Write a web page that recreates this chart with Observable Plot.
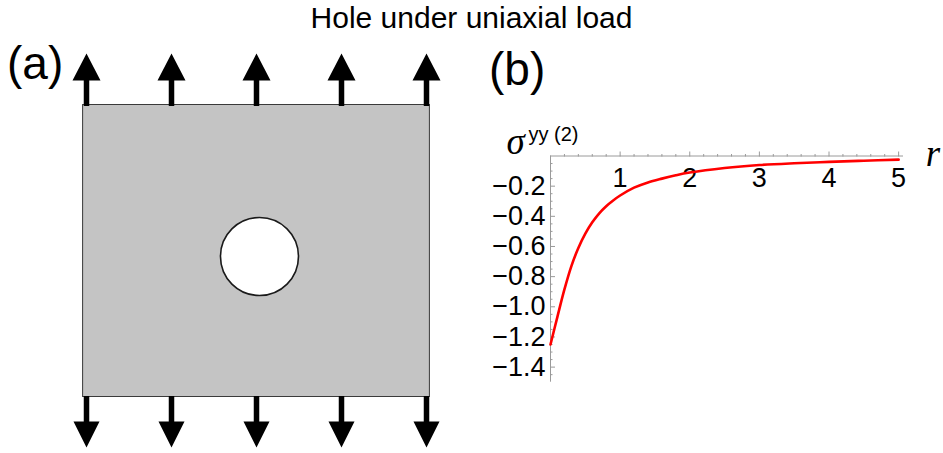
<!DOCTYPE html>
<html><head><meta charset="utf-8">
<script src="https://cdn.jsdelivr.net/npm/d3@7"></script>
<script src="https://cdn.jsdelivr.net/npm/@observablehq/plot@0.6"></script>
<style>
html,body{margin:0;padding:0;background:#fff;}
#wrap{position:relative;width:943px;height:453px;overflow:hidden;font-family:"Liberation Sans",Arial,Helvetica,sans-serif;}
.abs{position:absolute;line-height:1;white-space:nowrap;color:#000;}
#title{left:0;width:943px;text-align:center;top:3px;font-size:30px;}
#la{left:7px;top:40px;font-size:46px;}
#lb{left:489px;top:46px;font-size:46px;}
#pa{position:absolute;left:0;top:0;}
#pb{position:absolute;left:480px;top:120px;}
</style></head><body>
<div id="wrap">
  <div id="pa"></div>
  <div id="pb"></div>
  <div id="title" class="abs"></div>
  <div id="la" class="abs"></div>
  <div id="lb" class="abs"></div>
</div>
<script>
// ---- text ----
const title = "Hole under uniaxial load";
const panelLabels = ["(a)", "(b)"];

// ---- panel (a): plate with a hole, pulled by arrows (plate units) ----
const arrowX = [0, 1, 2, 3, 4];
const plateX = [-0.04, 4.04];
const plateY = [0, 3.435];
const holeCenter = [2.035, 1.653];

// ---- panel (b): sigma^yy(2) vs r ----
const rValues = [0, 0.1, 0.2, 0.3, 0.4, 0.5, 0.6, 0.7, 0.8, 0.9, 1.0, 1.2, 1.4, 1.6, 1.8, 2.0, 2.5, 3.0, 3.5, 4.0, 4.5, 5.0];
const sigmaValues = [-1.25, -1.065, -0.885, -0.73, -0.61, -0.515, -0.44, -0.38, -0.333, -0.295, -0.262, -0.21, -0.175, -0.15, -0.128, -0.11, -0.08, -0.06, -0.048, -0.039, -0.031, -0.024];
const xTicks = [1, 2, 3, 4, 5];
const xTickLabels = ["1", "2", "3", "4", "5"];
const xMinorTicks = d3.range(0.2, 5.01, 0.2).map(v => +v.toFixed(2)).filter(v => Math.abs(v - Math.round(v)) > 1e-6);
const yTicks = [-0.2, -0.4, -0.6, -0.8, -1.0, -1.2, -1.4];
const yTickLabels = ["\u22120.2", "\u22120.4", "\u22120.6", "\u22120.8", "\u22121.0", "\u22121.2", "\u22121.4"];
const yMinorTicks = d3.range(1, 30).map(i => -+(i * 0.05).toFixed(2)).filter(v => Math.abs(v * 5 - Math.round(v * 5)) > 1e-6);
const yLabelMain = "\u03C3";
const yLabelSup = "yy (2)";
const xLabel = "r";

document.getElementById("title").textContent = title;
document.getElementById("la").textContent = panelLabels[0];
document.getElementById("lb").textContent = panelLabels[1];

// arrow glyphs (shaft + filled head), drawn from the plate edge outward
const upArrow = {draw(ctx) {
  ctx.moveTo(-2.75, 1); ctx.lineTo(-2.75, -24.5); ctx.lineTo(-14, -24.5);
  ctx.lineTo(0, -51.5); ctx.lineTo(14, -24.5); ctx.lineTo(2.75, -24.5); ctx.lineTo(2.75, 1); ctx.closePath();
}};
const downArrow = {draw(ctx) {
  ctx.moveTo(-2.75, -1); ctx.lineTo(-2.75, 24.5); ctx.lineTo(-13, 24.5);
  ctx.lineTo(0, 50.5); ctx.lineTo(13, 24.5); ctx.lineTo(2.75, 24.5); ctx.lineTo(2.75, -1); ctx.closePath();
}};

const plate = [{x1: plateX[0], x2: plateX[1], y1: plateY[0], y2: plateY[1]}];

const pa = Plot.plot({
  width: 470, height: 453,
  marginLeft: 86, marginRight: 44, marginTop: 104.5, marginBottom: 56.5,
  style: {background: "transparent", overflow: "visible"},
  x: {domain: [0, 4], axis: null},
  y: {domain: [plateY[0], plateY[1]], axis: null},
  marks: [
    Plot.rect(plate, {x1: "x1", x2: "x2", y1: "y1", y2: "y2", fill: "#c4c4c4", stroke: "#3a3a3a", strokeWidth: 1}),
    Plot.dot([holeCenter], {x: d => d[0], y: d => d[1], r: 39, fill: "white", stroke: "#1a1a1a", strokeWidth: 1.6}),
    Plot.dot(arrowX, {x: d => d, y: () => plateY[1], symbol: upArrow, fill: "black", stroke: "none"}),
    Plot.dot(arrowX, {x: d => d, y: () => plateY[0], symbol: downArrow, fill: "black", stroke: "none"})
  ]
});
document.getElementById("pa").appendChild(pa);

const curve = rValues.map((r, i) => ({r, s: sigmaValues[i]}));
const axisColor = "#9a9a9a";

const pb = Plot.plot({
  width: 463, height: 280,
  marginLeft: 70, marginRight: 40, marginTop: 35.5, marginBottom: 18.3,
  style: {background: "transparent", overflow: "visible", fontFamily: "Liberation Sans, Arial, sans-serif"},
  x: {domain: [0, 5.07]},
  y: {domain: [-1.5, 0]},
  marks: [
    Plot.ruleY([0], {stroke: axisColor, strokeWidth: 1}),
    Plot.ruleX([0], {stroke: axisColor, strokeWidth: 1}),
    Plot.axisX({anchor: "top", ticks: xTicks, tickSize: 5, tickFormat: () => "", stroke: axisColor, label: null}),
    Plot.axisX({anchor: "top", ticks: xMinorTicks, tickSize: 2.5, tickFormat: () => "", stroke: axisColor, label: null}),
    Plot.axisY({anchor: "left", ticks: yTicks, tickSize: -5, tickFormat: () => "", stroke: axisColor, label: null}),
    Plot.axisY({anchor: "left", ticks: yMinorTicks, tickSize: -2.5, tickFormat: () => "", stroke: axisColor, label: null}),
    Plot.text(yTicks, {x: () => 0, y: d => d, text: (d, i) => yTickLabels[i], textAnchor: "end", lineAnchor: "middle", dx: -5, fontSize: 27, fill: "black"}),
    Plot.text(xTicks, {x: d => d, y: () => 0, text: (d, i) => xTickLabels[i], textAnchor: "middle", lineAnchor: "middle", dy: 22, fontSize: 27, fill: "black"}),
    Plot.text([yLabelMain], {x: () => 0, y: () => 0, text: d => d, textAnchor: "start", lineAnchor: "middle", dx: -44, dy: -14, fontSize: 37, fontStyle: "italic", fontFamily: "Liberation Serif, Times New Roman, serif", fill: "black"}),
    Plot.text([yLabelSup], {x: () => 0, y: () => 0, text: d => d, textAnchor: "start", lineAnchor: "middle", dx: -22, dy: -21, fontSize: 20, fill: "black"}),
    Plot.text([xLabel], {x: () => 5, y: () => 0, text: d => d, textAnchor: "start", lineAnchor: "middle", dx: 27, dy: -2, fontSize: 37, fontStyle: "italic", fontFamily: "Liberation Serif, Times New Roman, serif", fill: "black"}),
    Plot.line(curve, {x: "r", y: "s", stroke: "#ff0000", strokeWidth: 2.6, curve: "catmull-rom"})
  ]
});
document.getElementById("pb").appendChild(pb);
</script>
</body></html>
